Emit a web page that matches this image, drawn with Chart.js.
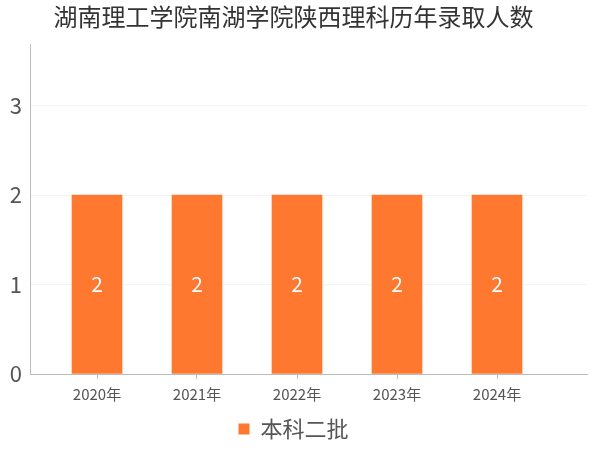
<!DOCTYPE html>
<html>
<head>
<meta charset="utf-8">
<script src="https://cdn.jsdelivr.net/npm/chart.js@4"></script>
<style>
  html, body { margin: 0; padding: 0; background: #fff; }
  #wrap { width: 600px; height: 450px; }
</style>
</head>
<body>
<div id="wrap"><canvas id="chart" width="600" height="450"></canvas></div>
<script>
// Chart data
const titleText = "湖南理工学院南湖学院陕西理科历年录取人数";
const categories = ["2020年", "2021年", "2022年", "2023年", "2024年"];
const seriesName = "本科二批";
const seriesValues = [2, 2, 2, 2, 2];
const yTicks = [0, 1, 2, 3];

const FONT = "'Noto Sans CJK SC', 'Noto Sans', sans-serif";
const barColor = "#FE7830";

// draws the value in the middle of each bar
const barLabels = {
  id: "barLabels",
  afterDatasetsDraw(chart) {
    const ctx = chart.ctx;
    const meta = chart.getDatasetMeta(0);
    ctx.save();
    ctx.fillStyle = "#fff";
    ctx.font = "21px " + FONT;
    ctx.textAlign = "center";
    ctx.textBaseline = "middle";
    meta.data.forEach((bar, i) => {
      const mid = (bar.y + bar.base) / 2;
      ctx.fillText(String(seriesValues[i]), bar.x, mid);
    });
    ctx.restore();
  }
};

const ctx = document.getElementById("chart").getContext("2d");
new Chart(ctx, {
  type: "bar",
  data: {
    datasets: [{
      label: seriesName,
      data: seriesValues.map((v, i) => ({ x: i, y: v })),
      backgroundColor: barColor,
      borderWidth: 0,
      barThickness: 50
    }]
  },
  options: {
    responsive: false,
    animation: false,
    layout: { padding: { left: 0, right: 13, top: 0, bottom: 0 } },
    plugins: {
      title: {
        display: true,
        text: titleText,
        color: "#333",
        font: { family: FONT, size: 24, weight: "normal" },
        padding: { top: 2, bottom: 14 }
      },
      legend: {
        position: "bottom",
        labels: {
          color: "#555",
          font: { family: FONT, size: 22 },
          boxWidth: 11,
          boxHeight: 11,
          padding: 9
        }
      },
      tooltip: { enabled: false }
    },
    scales: {
      x: {
        type: "linear",
        offset: false,
        min: -0.67,
        max: 4.9,
        afterBuildTicks: (scale) => { scale.ticks = categories.map((c, i) => ({ value: i })); },
        ticks: {
          color: "#555",
          font: { family: FONT, size: 15 },
          padding: 6,
          callback: (v) => categories[v]
        },
        grid: { display: true, offset: false, drawOnChartArea: false, tickLength: 5, color: "#bbb" },
        border: { color: "#bbb" }
      },
      y: {
        min: 0,
        max: 3.68,
        afterBuildTicks: (scale) => { scale.ticks = yTicks.map(v => ({ value: v })); },
        afterFit: (scale) => { scale.width = 30; },
        ticks: {
          color: "#555",
          font: { family: FONT, size: 22 },
          padding: 8
        },
        grid: { drawTicks: false, color: "#f3f3f3" },
        border: { color: "#bbb" }
      }
    }
  },
  plugins: [barLabels]
});
</script>
</body>
</html>
